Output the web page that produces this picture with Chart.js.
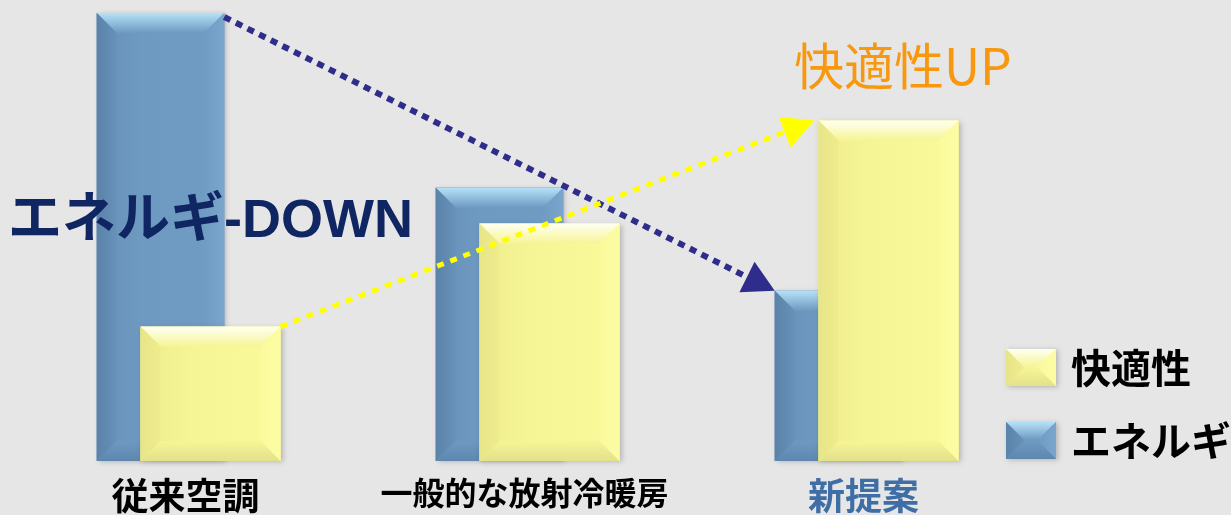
<!DOCTYPE html>
<html lang="ja">
<head>
<meta charset="utf-8">
<script src="https://cdn.jsdelivr.net/npm/chart.js@4.4.1/dist/chart.umd.min.js"></script>
<style>
  html, body { margin: 0; padding: 0; background: #e6e6e6; }
  #wrap { width: 1231px; height: 515px; }
</style>
</head>
<body>
<div id="wrap"><canvas id="chart"></canvas></div>
<script>
// data (arbitrary units, tallest bar = 100)
const categories = ['従来空調', '一般的な放射冷暖房', '新提案'];
const energy = [100, 61, 38];
const comfort = [30, 53, 76];
const seriesNames = ['エネルギ', '快適性'];
const downLabel = 'エネルギ-DOWN';
const upLabel = '快適性UP';

const cjk = '"Noto Sans CJK JP", "Noto Sans CJK SC", sans-serif';

const bluePal = {
   body: '#6e99c1', left: '#6891b9', right: '#709bc3', top: '#b5e2f8',
   edgeL: '#5b83a9', edgeR: '#7aa5cc', bottom: '#5d87ae'
};
const yellowPal = {
   body: '#f6f596', left: '#eeec8c', right: '#fbfa9b', top: '#fffff2',
   edgeL: '#e7e589', edgeR: '#fcfca4', bottom: '#e3e18a'
};

function poly(ctx, pts, fill) {
   ctx.beginPath();
   ctx.moveTo(pts[0][0], pts[0][1]);
   for (let i = 1; i < pts.length; i++) ctx.lineTo(pts[i][0], pts[i][1]);
   ctx.closePath();
   ctx.fillStyle = fill;
   ctx.fill();
}

function bevelRect(ctx, x0, y0, x1, y1, pal, b, shadow) {
   b = Math.min(b, (x1 - x0) / 2, (y1 - y0) / 2);
   ctx.save();
   if (shadow) {
      ctx.shadowColor = 'rgba(0,0,0,0.22)';
      ctx.shadowBlur = 5;
      ctx.shadowOffsetX = 2;
      ctx.shadowOffsetY = 1;
   }
   ctx.fillStyle = pal.body;
   ctx.fillRect(x0, y0, x1 - x0, y1 - y0);
   ctx.restore();

   let g = ctx.createLinearGradient(x0, 0, x1, 0);
   g.addColorStop(0, pal.left);
   g.addColorStop(0.35, pal.body);
   g.addColorStop(1, pal.right);
   ctx.fillStyle = g;
   ctx.fillRect(x0, y0, x1 - x0, y1 - y0);

   g = ctx.createLinearGradient(0, y0, 0, y0 + b);
   g.addColorStop(0, pal.top);
   g.addColorStop(1, pal.body);
   poly(ctx, [[x0, y0], [x1, y0], [x1 - b, y0 + b], [x0 + b, y0 + b]], g);

   g = ctx.createLinearGradient(x0, 0, x0 + b, 0);
   g.addColorStop(0, pal.edgeL);
   g.addColorStop(1, pal.left);
   poly(ctx, [[x0, y0], [x0 + b, y0 + b], [x0 + b, y1 - b], [x0, y1]], g);

   g = ctx.createLinearGradient(x1, 0, x1 - b, 0);
   g.addColorStop(0, pal.edgeR);
   g.addColorStop(1, pal.right);
   poly(ctx, [[x1, y0], [x1, y1], [x1 - b, y1 - b], [x1 - b, y0 + b]], g);

   g = ctx.createLinearGradient(0, y1, 0, y1 - b);
   g.addColorStop(0, pal.bottom);
   g.addColorStop(1, pal.body);
   poly(ctx, [[x0, y1], [x0 + b, y1 - b], [x1 - b, y1 - b], [x1, y1]], g);
}

function dottedArrow(ctx, x0, y0, x1, y1, color, lw, dash, headLen, headW) {
   let dx = x1 - x0, dy = y1 - y0;
   let len = Math.hypot(dx, dy);
   let ux = dx / len, uy = dy / len;
   let bx = x1 - ux * headLen, by = y1 - uy * headLen;
   ctx.save();
   ctx.strokeStyle = color;
   ctx.lineWidth = lw;
   ctx.lineCap = 'butt';
   ctx.setLineDash(dash);
   ctx.beginPath();
   ctx.moveTo(x0, y0);
   ctx.lineTo(bx, by);
   ctx.stroke();
   ctx.setLineDash([]);
   poly(ctx, [[x1, y1], [bx - uy * headW / 2, by + ux * headW / 2], [bx + uy * headW / 2, by - ux * headW / 2]], color);
   ctx.restore();
}

function barBox(bar) {
   let p = bar.getProps(['x', 'y', 'base', 'width'], true);
   return { x0: p.x - p.width / 2, x1: p.x + p.width / 2, top: p.y, base: p.base };
}

const bevelBars = {
   id: 'bevelBars',
   beforeDatasetDraw() {
      return false;
   },
   afterDatasetsDraw(chart) {
      let ctx = chart.ctx;
      let blue = chart.getDatasetMeta(0).data.map(barBox);
      let yellow = chart.getDatasetMeta(1).data.map(barBox);

      for (let i = 0; i < categories.length; i++) {
         bevelRect(ctx, blue[i].x0, blue[i].top, blue[i].x1, blue[i].base, bluePal, 20, true);
         bevelRect(ctx, yellow[i].x0, yellow[i].top, yellow[i].x1, yellow[i].base, yellowPal, 20, true);
      }

      let last = categories.length - 1;
      dottedArrow(ctx, blue[0].x1, blue[0].top + 4, blue[last].x0, blue[last].top,
         '#2e2d8c', 6, [7, 6], 31, 34);
      dottedArrow(ctx, yellow[0].x1, yellow[0].top, yellow[last].x0 - 4, yellow[last].top,
         '#ffff00', 5, [7, 7], 32, 33);

      ctx.save();
      ctx.textBaseline = 'middle';
      ctx.textAlign = 'left';
      ctx.fillStyle = '#0f2663';
      ctx.font = 'bold 54px "Liberation Sans", ' + cjk;
      ctx.fillText(downLabel, 8, 222);

      ctx.fillStyle = '#f7980f';
      ctx.font = '50px ' + cjk;
      ctx.fillText(upLabel, 794, 66);

      // legend
      let legend = [[seriesNames[1], yellowPal, 349], [seriesNames[0], bluePal, 422]];
      ctx.font = 'bold 40px ' + cjk;
      legend.forEach(([name, pal, y]) => {
         bevelRect(ctx, 1006, y, 1056, y + 37, pal, 18, true);
         ctx.fillStyle = '#000';
         ctx.fillText(name, 1071, y + 19);
      });
      ctx.restore();
   }
};

new Chart(document.getElementById('chart'), {
   type: 'bar',
   data: {
      labels: categories,
      datasets: [
         {
            label: seriesNames[0],
            data: energy,
            backgroundColor: bluePal.body,
            categoryPercentage: 0.295,
            barPercentage: 2.55
         },
         {
            label: seriesNames[1],
            data: comfort,
            backgroundColor: yellowPal.body,
            categoryPercentage: 0.295,
            barPercentage: 2.8
         }
      ]
   },
   options: {
      responsive: true,
      maintainAspectRatio: false,
      animation: false,
      devicePixelRatio: 1,
      layout: { padding: { top: 13, left: 16, right: 198, bottom: -15 } },
      plugins: {
         legend: { display: false },
         tooltip: { enabled: false }
      },
      scales: {
         x: {
            grid: { display: false, drawTicks: false },
            border: { display: false },
            ticks: {
               autoSkip: false,
               maxRotation: 0,
               padding: 16,
               color: c => c.index === 2 ? '#3f6ea6' : '#000',
               font: c => ({ family: cjk, weight: 'bold', size: c.index === 1 ? 32 : 37, lineHeight: 1 })
            }
         },
         y: {
            display: false,
            min: 0,
            max: 100
         }
      }
   },
   plugins: [bevelBars]
});
</script>
</body>
</html>
